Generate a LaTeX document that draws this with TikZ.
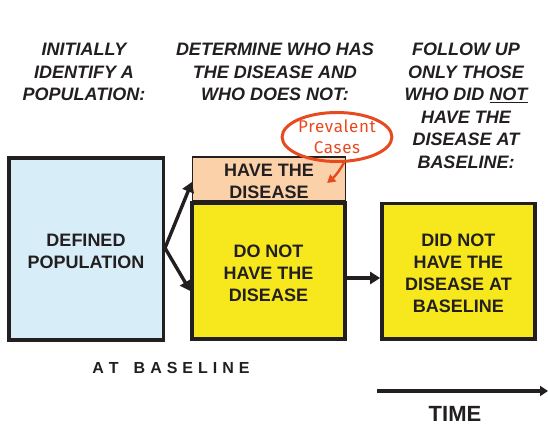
\documentclass[tikz,border=0pt]{standalone}
\usepackage{fontspec}
\setmainfont{Liberation Sans}
\newfontfamily\prevfont{Fira Sans}
\usetikzlibrary{arrows.meta,shapes.geometric,calc}
\definecolor{txt}{HTML}{231F20}
\definecolor{boxblue}{HTML}{D7EEF9}
\definecolor{peach}{HTML}{FBD1A9}
\definecolor{yel}{HTML}{F6E81C}
\definecolor{redo}{HTML}{E84A1F}
\newcommand\ls{\hspace{5pt}}
\begin{document}
\begin{tikzpicture}[x=1pt,y=-1pt,
  txtstyle/.style={text=txt,font=\bfseries\fontsize{18}{22}\selectfont,align=center,inner sep=0pt},
  headstyle/.style={txtstyle,font=\bfseries\itshape\fontsize{18}{22.5}\selectfont},
  bigbox/.style={draw=txt,line width=3.5pt,txtstyle},
  arr/.style={draw=txt,line width=3.4pt,-{Triangle[length=10pt,width=12pt]}},
]
\useasboundingbox (0,0) rectangle (548,425);
\node[headstyle] (h1) at (84,72) {INITIALLY\\IDENTIFY A\\POPULATION:};
\node[headstyle] (h2) at (275,72) {DETERMINE WHO HAS\\THE DISEASE AND\\WHO DOES NOT:};
\node[headstyle] (h3) at (466,106) {FOLLOW UP\\ONLY THOSE\\WHO DID \underline{NOT}\\HAVE THE\\DISEASE AT\\BASELINE:};

\node[bigbox,fill=boxblue,minimum width=154.5pt,minimum height=182pt] (pop) at (86,249) {};
\node[txtstyle] at (86,251) {DEFINED\\POPULATION};

\node[draw=txt,line width=1.2pt,fill=peach,minimum width=153pt,minimum height=44pt,txtstyle] (have) at (269,179) {};
\node[txtstyle] at (269,181) {HAVE THE\\DISEASE};

\node[bigbox,fill=yel,minimum width=153pt,minimum height=136pt] (no) at (268.5,271) {};
\node[txtstyle] at (268.5,273) {DO NOT\\HAVE THE\\DISEASE};

\node[bigbox,fill=yel,minimum width=153pt,minimum height=135.5pt] (did) at (458.4,271) {};
\node[txtstyle] at (458.4,273.5) {DID NOT\\HAVE THE\\DISEASE AT\\BASELINE};

\draw[arr] ([yshift=1pt]pop.east) -- ([yshift=-3pt]have.west);
\draw[arr] ([yshift=1pt]pop.east) -- ([yshift=-20pt]no.west);
\draw[arr] ([yshift=-7pt]no.east) -- ([yshift=-7pt]did.west);

\node[ellipse,draw=redo,line width=3pt,minimum width=104pt,minimum height=49pt,inner sep=0pt,
  text=redo,font=\prevfont\fontsize{17}{21}\selectfont,align=center] (prev) at (337,137) {\addfontfeature{LetterSpace=4}Prevalent\\\addfontfeature{LetterSpace=4}Cases};
\draw[redo,line width=2.4pt,-{Triangle[length=8pt,width=9pt]}] (prev.-75) to[bend left=10] ([xshift=-19pt,yshift=-4pt]have.east);

\node[txtstyle,font=\bfseries\fontsize{16}{19}\selectfont] (atb) at (171,368) {A\ls T\ls\ls\ls B\ls A\ls S\ls E\ls L\ls I\ls N\ls E};

\coordinate (ts) at (377,391);
\coordinate (te) at (548,391);
\draw[arr,-{Triangle[length=8pt,width=10pt]}] (ts) -- (te);
\node[txtstyle,font=\bfseries\fontsize{22}{26}\selectfont] (time) at (455,414) {TIME};
\end{tikzpicture}
\end{document}
